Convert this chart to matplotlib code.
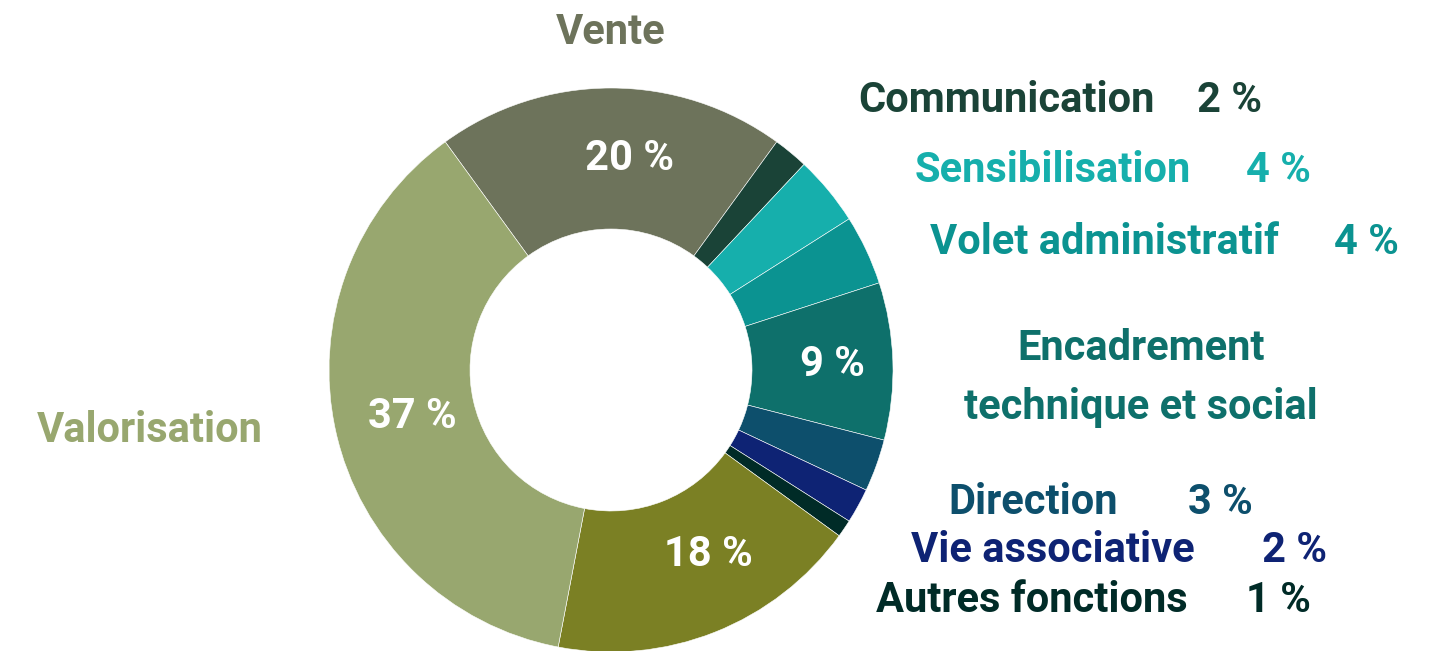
import matplotlib
matplotlib.use("Agg")
import matplotlib.pyplot as plt

categories = ["Vente", "Communication", "Sensibilisation", "Volet administratif",
              "Encadrement\ntechnique et social", "Direction", "Vie associative",
              "Autres fonctions", "", "Valorisation"]
values = [20, 2, 4, 4, 9, 3, 2, 1, 18, 37]
colors = ["#6D735B", "#1A4337", "#16AFAC", "#0B9391", "#0E706B",
          "#0D4F6C", "#0E2374", "#002B27", "#7B8024", "#98A76F"]
pct_labels = [f"{v} %" for v in values]

W, H = 1433, 651
fig = plt.figure(figsize=(W / 100, H / 100), dpi=100)
ax = fig.add_axes([0, 0, 1, 1])

cx, cy, R = 611, H - 370, 282
ax.pie(values, colors=colors, startangle=126, counterclock=False,
       center=(cx, cy), radius=R,
       wedgeprops=dict(width=R * 0.5, edgecolor="white", linewidth=0.4))
ax.set_xlim(0, W)
ax.set_ylim(0, H)
ax.set_aspect("equal")
ax.axis("off")

font = "Roboto"
fs = 30
DY = 3


def t(x, y, s, c, ha="center", size=fs):
    ax.text(x, H - (y + DY), s, color=c, ha=ha, va="center", fontsize=size,
            fontweight="bold", family=font)


# outside labels
t(611, 30, categories[0], colors[0])
t(858, 97, categories[1], colors[1], ha="left")
t(1197, 97, pct_labels[1], colors[1], ha="left")
t(915, 168, categories[2], colors[2], ha="left")
t(1246, 168, pct_labels[2], colors[2], ha="left")
t(930, 240, categories[3], colors[3], ha="left")
t(1334, 240, pct_labels[3], colors[3], ha="left")
enc_lines = categories[4].split("\n")
t(1141, 346, enc_lines[0], colors[4])
t(1141, 404, enc_lines[1], colors[4])
t(948, 499, categories[5], colors[5], ha="left")
t(1188, 499, pct_labels[5], colors[5], ha="left")
t(911, 548, categories[6], colors[6], ha="left")
t(1262, 548, pct_labels[6], colors[6], ha="left")
t(876, 598, categories[7], colors[7], ha="left")
t(1246, 598, pct_labels[7], colors[7], ha="left")
t(150, 428, categories[9], colors[9])

# inside labels
t(630, 155, pct_labels[0], "white")
t(832, 362, pct_labels[4], "white")
t(412, 413, pct_labels[9], "white")
t(708, 551, pct_labels[8], "white")

fig.savefig("out.png", dpi=100, facecolor="white")
